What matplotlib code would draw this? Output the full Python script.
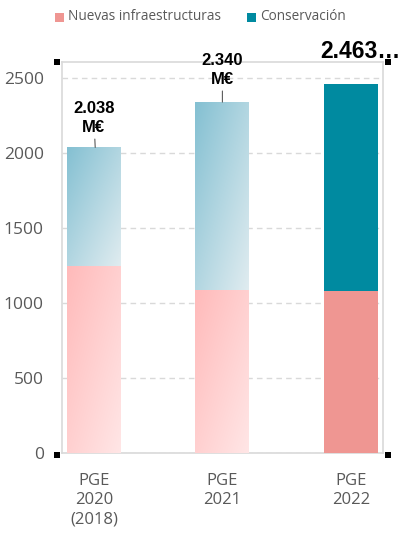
import numpy as np
import matplotlib.pyplot as plt
from matplotlib.colors import LinearSegmentedColormap
from matplotlib.patches import Rectangle

# --- Data ---
categories = ["PGE\n2020\n(2018)", "PGE\n2021", "PGE\n2022"]
nuevas = [1250, 1090, 1080]
totales = [2038, 2340, 2463]
conservacion = [t - n for t, n in zip(totales, nuevas)]
total_labels = ["2.038\nM€", "2.340\nM€", "2.463…"]
gradient_bars = [True, True, False]

PINK = "#ef9692"
TEAL = "#008aa0"
GREY = "#595959"

plt.rcParams['font.family'] = ['Liberation Sans', 'DejaVu Sans']

fig = plt.figure(figsize=(4.04, 5.35), dpi=100)
ax = fig.add_axes([0.153, 0.153, 0.795, 0.731])

x = np.arange(len(categories))
w = 0.42
b1 = ax.bar(x, nuevas, w, color=PINK, zorder=3)
b2 = ax.bar(x, conservacion, w, bottom=nuevas, color=TEAL, zorder=3)

# diagonal gradients for the earlier budgets
pink_cmap = LinearSegmentedColormap.from_list("pk", ["#ffbaba", "#ffe6e6"])
blue_cmap = LinearSegmentedColormap.from_list("bl", ["#84c0d2", "#e0ecf0"])
yy, xx = np.mgrid[0:1:100j, 0:1:100j]
grad = (xx + yy) / 2.0
for i, g in enumerate(gradient_bars):
    if not g:
        continue
    for patch, cmap in ((b1[i], pink_cmap), (b2[i], blue_cmap)):
        px, py = patch.get_x(), patch.get_y()
        pw, ph = patch.get_width(), patch.get_height()
        patch.set_visible(False)
        ax.imshow(grad, cmap=cmap, extent=(px, px + pw, py, py + ph),
                  origin="upper", aspect="auto", zorder=3, interpolation="bilinear")

ax.set_xlim(-0.25, 2.25)
ax.set_ylim(0, 2607)
ax.set_yticks([0, 500, 1000, 1500, 2000, 2500])
ax.yaxis.grid(True, linestyle=(0, (4, 3)), color="#d9d9d9", linewidth=1, zorder=0)
ax.set_xticks(x)
ax.set_xticklabels(categories, fontfamily="Open Sans", fontsize=12, color=GREY,
                   linespacing=1.3, va="top")
ax.tick_params(axis="y", length=0, labelsize=12.5, labelcolor=GREY, pad=13)
ax.tick_params(axis="x", length=0, pad=14)
for lab in ax.get_yticklabels():
    lab.set_fontfamily("Open Sans")
for s in ax.spines.values():
    s.set_color("#d9d9d9")
    s.set_linewidth(1.2)

# totals with leader lines
line_style = dict(arrowstyle="-", color=GREY, lw=0.8, shrinkA=1, shrinkB=0)
ax.annotate(total_labels[0], xy=(x[0] + 0.01, totales[0]), xytext=(-1, 9),
            textcoords="offset points", ha="center", va="bottom", fontsize=12,
            fontweight="bold", linespacing=1.3, arrowprops=line_style)
ax.annotate(total_labels[1], xy=(x[1], totales[1]), xytext=(0, 11),
            textcoords="offset points", ha="center", va="bottom", fontsize=12,
            fontweight="bold", linespacing=1.3, arrowprops=line_style)
ax.text(1.76, 2633, total_labels[2], ha="left", va="baseline",
        fontsize=16.5, fontweight="bold", clip_on=False)

# selection corner marks
for cx, cy in [(57, 473), (388, 473), (57, 80), (388, 80)]:
    fig.patches.append(Rectangle((cx - 3, cy - 3), 6, 6, transform=None,
                                 facecolor="black", edgecolor="none"))

# legend row
fig.patches.append(Rectangle((55 / 404, 1 - 22 / 535), 9 / 404, 9 / 535,
                             transform=fig.transFigure, facecolor=PINK))
fig.text(68 / 404, 1 - 17 / 535, "Nuevas infraestructuras", fontfamily="Open Sans",
         fontsize=9.8, color=GREY, va="center")
fig.patches.append(Rectangle((247 / 404, 1 - 22 / 535), 9 / 404, 9 / 535,
                             transform=fig.transFigure, facecolor=TEAL))
fig.text(260 / 404, 1 - 17 / 535, "Conservación", fontfamily="Open Sans",
         fontsize=9.8, color=GREY, va="center")

fig.savefig("out.png", dpi=100)
